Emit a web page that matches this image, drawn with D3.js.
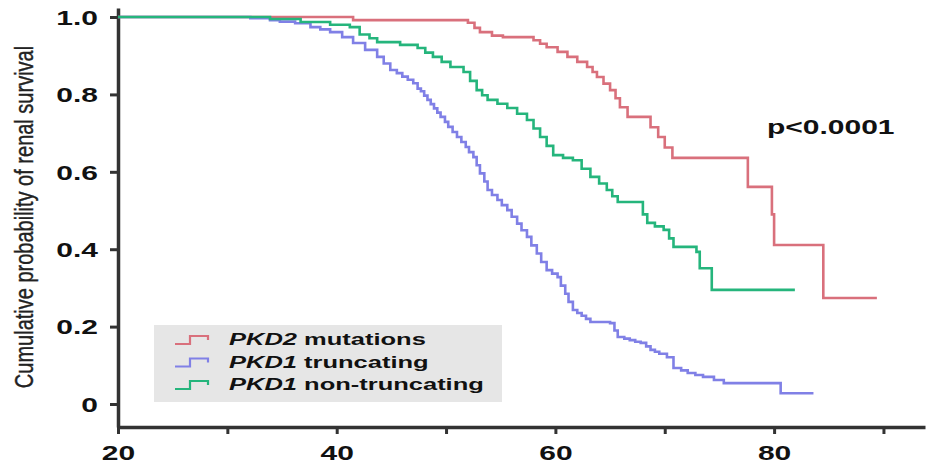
<!DOCTYPE html>
<html><head><meta charset="utf-8">
<script src="https://cdn.jsdelivr.net/npm/d3@7"></script>
<style>body{margin:0;background:#fff}svg{display:block}text{font-family:"Liberation Sans",Arial,sans-serif}</style>
</head><body><svg id="c" width="932" height="464"></svg>
<script>
// ---- data (age in years, cumulative survival) ----
const pkd2Ages = [20,41.5,52.0,52.6,53.1,54.2,55.2,58.0,58.6,59.2,60.2,61.1,62.0,62.9,63.4,63.8,64.4,65.0,65.5,65.9,66.6,68.7,69.4,70.0,70.7,77.6,79.8,80.0,84.5,89.4];
const pkd2Surv = [1.0,0.992,0.985,0.972,0.961,0.952,0.948,0.94,0.931,0.922,0.91,0.897,0.884,0.871,0.858,0.845,0.828,0.811,0.79,0.767,0.742,0.715,0.69,0.663,0.636,0.561,0.49,0.411,0.274,0.274];

const pkd1TruncAges = [20,32.1,33.9,34.8,36.2,37.6,38.5,39.4,40.5,41.5,42.6,43.7,44.3,44.9,45.5,46.0,46.5,47.0,47.4,47.7,48.0,48.3,48.6,48.9,49.2,49.5,49.9,50.2,50.6,51.0,51.4,51.8,52.1,52.5,52.8,53.1,53.5,53.8,54.2,54.7,55.1,55.6,56.0,56.5,56.9,57.4,57.8,58.3,58.7,59.2,59.7,60.2,60.5,60.9,61.2,61.6,62.0,62.4,62.8,63.2,65.0,65.4,65.7,66.3,66.8,67.3,67.8,68.3,68.7,69.1,69.5,70.2,70.8,71.5,72.1,72.8,73.5,74.5,75.4,80.6,83.6];
const pkd1TruncSurv = [1.0,0.997,0.992,0.988,0.984,0.974,0.968,0.961,0.948,0.933,0.915,0.897,0.88,0.863,0.855,0.846,0.838,0.829,0.815,0.808,0.797,0.786,0.775,0.764,0.753,0.742,0.729,0.716,0.703,0.69,0.677,0.664,0.651,0.638,0.617,0.596,0.575,0.553,0.54,0.527,0.514,0.501,0.484,0.466,0.449,0.432,0.41,0.389,0.367,0.346,0.337,0.328,0.306,0.285,0.264,0.243,0.235,0.228,0.22,0.212,0.209,0.19,0.173,0.169,0.165,0.161,0.158,0.149,0.14,0.135,0.13,0.121,0.093,0.087,0.08,0.075,0.07,0.062,0.054,0.028,0.028];

const pkd1NonTruncAges = [20,33.9,36.7,39.4,41.2,42.1,43.0,43.7,45.8,47.4,48.1,48.8,49.6,50.4,51.6,52.2,52.8,53.3,53.8,54.7,55.6,56.5,57.4,58.0,58.6,59.2,59.8,60.7,61.6,62.4,63.2,64.0,64.7,65.2,65.7,68.0,68.4,69.1,69.9,70.4,70.8,72.9,73.2,74.3,81.9];
const pkd1NonTruncSurv = [1.0,0.995,0.987,0.98,0.974,0.955,0.945,0.935,0.928,0.92,0.908,0.897,0.884,0.871,0.858,0.835,0.811,0.798,0.786,0.776,0.765,0.75,0.734,0.712,0.69,0.667,0.643,0.636,0.63,0.608,0.587,0.57,0.553,0.537,0.522,0.49,0.468,0.459,0.45,0.428,0.406,0.393,0.351,0.295,0.295];

const seriesNames = ["PKD2", "PKD1", "PKD1"];
const seriesSuffix = [" mutations", " truncating", " non-truncating"];
const seriesColors = ["#d9707c", "#8080e6", "#25b57c"];

const xTicks = [20,30,40,50,60,70,80,90];
const xTickLabels = ["20","","40","","60","","80",""];
const yTicks = [0,0.2,0.4,0.6,0.8,1.0];
const yTickLabels = ["0","0.2","0.4","0.6","0.8","1.0"];
const yTitle = "Cumulative probability of renal survival";
const pText = "p<0.0001";

// ---- drawing ----
const svg = d3.select("#c");
const SX = 1.5; // horizontal stretch of the original figure
const axisColor = "#333";
const x = d3.scaleLinear().domain([20, 93.8]).range([118, 925]);
const y = d3.scaleLinear().domain([-0.0594, 1.0233]).range([427, 8]);

const xa = svg.append("g").attr("transform", `translate(0,${y(-0.0594)})`)
  .call(d3.axisBottom(x).tickValues(xTicks).tickSize(7).tickSizeOuter(0)
        .tickFormat((d,i) => xTickLabels[i]));
const ya = svg.append("g").attr("transform", `translate(${x(20)},0)`)
  .call(d3.axisLeft(y).tickValues(yTicks).tickSize(8).tickSizeOuter(0)
        .tickFormat((d,i) => yTickLabels[i]));
[xa, ya].forEach(a => {
  a.select(".domain").attr("stroke", axisColor).attr("stroke-width", 3.5);
  a.selectAll(".tick line").attr("stroke", axisColor).attr("stroke-width", 3);
  a.selectAll("text").attr("font-size", 20).attr("font-weight", "bold").attr("fill", "#111")
   .attr("font-family", "'Liberation Sans',Arial,sans-serif");
});
xa.selectAll(".tick text").attr("y", 33).attr("dy", 0).attr("transform", `scale(${SX},1)`);
ya.selectAll(".tick text").attr("x", -20 / SX).attr("dy", "0.36em").attr("transform", `scale(${SX},1)`);

// y title
svg.append("text")
  .attr("transform", `translate(33,217) scale(1.3,1) rotate(-90)`)
  .attr("text-anchor", "middle").attr("font-size", 20).attr("fill", "#222")
  .attr("stroke", "#222").attr("stroke-width", 0.3)
  .text(yTitle);

// curves
const line = d3.line().x(d => x(d[0])).y(d => y(d[1])).curve(d3.curveStepAfter);
const series = [
  [pkd2Ages, pkd2Surv, 0],
  [pkd1TruncAges, pkd1TruncSurv, 1],
  [pkd1NonTruncAges, pkd1NonTruncSurv, 2]
];
series.forEach(([a, s, i]) => {
  svg.append("path").datum(a.map((v, k) => [v, s[k]]))
    .attr("d", line).attr("fill", "none")
    .attr("stroke", seriesColors[i]).attr("stroke-width", 2.6)
    .attr("stroke-linejoin", "miter");
});

// p-value
svg.append("text").attr("transform", `translate(767,134) scale(${SX},1)`)
  .attr("font-size", 20).attr("font-weight", "bold").attr("fill", "#111").text(pText);

// legend
const lg = svg.append("g");
lg.append("rect").attr("x", 154).attr("y", 325).attr("width", 348).attr("height", 77).attr("fill", "#e6e6e6");
seriesNames.forEach((n, i) => {
  const by = 345 + i * 22.5;
  const cy = by - 5;
  lg.append("path")
    .attr("d", `M175,${cy+4} H190 V${cy-4} H208 V${cy}`)
    .attr("fill", "none").attr("stroke", seriesColors[i]).attr("stroke-width", 2.2);
  const t = lg.append("text").attr("transform", `translate(229,${by}) scale(${SX},1)`)
    .attr("font-size", 17).attr("font-weight", "bold").attr("fill", "#111");
  t.append("tspan").attr("font-style", "italic").text(n);
  t.append("tspan").text(seriesSuffix[i]);
});
</script></body></html>
